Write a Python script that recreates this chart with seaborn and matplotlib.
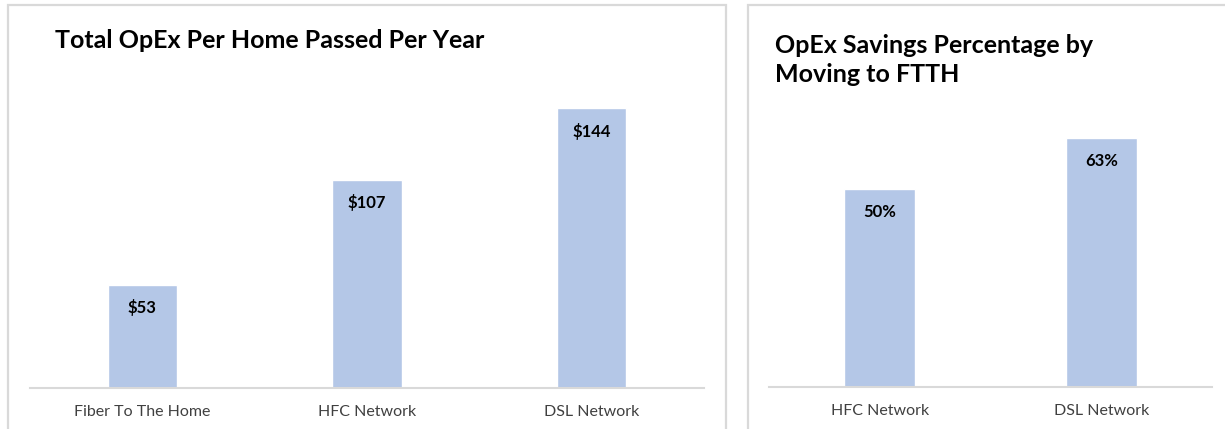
import matplotlib
matplotlib.use('Agg')
import matplotlib.pyplot as plt
from matplotlib.patches import Rectangle
import seaborn as sns
import pandas as pd

# data
cost_categories = ['Fiber To The Home', 'HFC Network', 'DSL Network']
cost_values = [53, 107, 144]
cost_labels = ['$53', '$107', '$144']

saving_categories = ['HFC Network', 'DSL Network']
saving_values = [50, 63]
saving_labels = ['50%', '63%']

W, H = 1225, 429
BAR = '#B4C7E7'
GRID = '#D9D9D9'

sns.set_style('white')
plt.rcParams['font.family'] = ['Lato', 'DejaVu Sans']

fig = plt.figure(figsize=(W / 100, H / 100), dpi=100)


def px_axes(x0, y0, x1, y1):
    # pixel box (top-left origin) -> figure axes
    return fig.add_axes([x0 / W, 1 - y1 / H, (x1 - x0) / W, (y1 - y0) / H])


def panel(x0, y0, x1, y1):
    fig.add_artist(Rectangle((x0 / W, 1 - y1 / H), (x1 - x0) / W, (y1 - y0) / H,
                             transform=fig.transFigure, fill=False,
                             edgecolor=GRID, linewidth=1.6))


def style_axes(ax, labels, ymax):
    ax.set_ylim(0, ymax)
    ax.set_yticks([])
    ax.set_xlabel('')
    ax.set_ylabel('')
    for side in ['top', 'left', 'right']:
        ax.spines[side].set_visible(False)
    ax.spines['bottom'].set_color(GRID)
    ax.spines['bottom'].set_linewidth(1.5)
    ax.tick_params(axis='x', length=0, pad=12, labelsize=11.5, labelcolor='#404040')
    for i, p in enumerate(ax.patches):
        ax.annotate(labels[i], (p.get_x() + p.get_width() / 2, p.get_height()),
                    xytext=(0, -16.5), textcoords='offset points',
                    ha='center', va='center', fontsize=12, fontweight='bold',
                    color='black')


panel(8, 5, 726, 440)
panel(748, 5, 1240, 440)

# left chart
df_cost = pd.DataFrame({'network': cost_categories, 'opex': cost_values})
ax1 = px_axes(30, 79, 704, 388)
sns.barplot(data=df_cost, x='network', y='opex', color=BAR, saturation=1,
            width=0.31, ax=ax1)
style_axes(ax1, cost_labels, 159)
fig.text(55 / W, 1 - 48 / H, 'Total OpEx Per Home Passed Per Year',
         fontsize=18, fontweight='bold', color='black', va='baseline')

# right chart
df_save = pd.DataFrame({'network': saving_categories, 'saving': saving_values})
ax2 = px_axes(769, 110, 1212, 387)
sns.barplot(data=df_save, x='network', y='saving', color=BAR, saturation=1,
            width=0.32, ax=ax2)
style_axes(ax2, saving_labels, 70)
fig.text(775 / W, 1 - 82 / H, 'OpEx Savings Percentage by\nMoving to FTTH',
         fontsize=18, fontweight='bold', color='black', va='baseline',
         linespacing=1.3)

fig.savefig('out.png', dpi=100)
